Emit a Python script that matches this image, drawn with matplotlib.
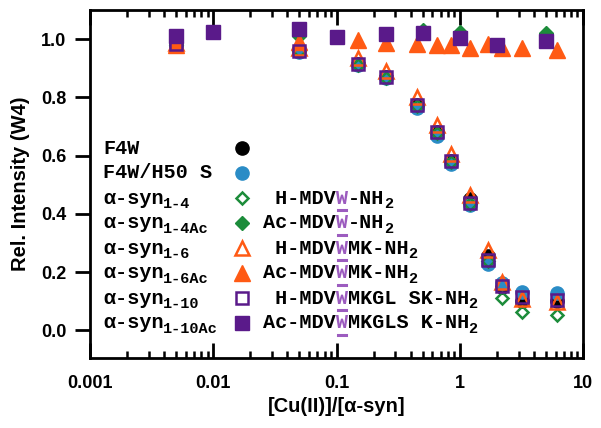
import numpy as np
import matplotlib
matplotlib.use("Agg")
import matplotlib.pyplot as plt
from matplotlib import ticker, transforms

# ---- data ----
x_curve = [0.005, 0.05, 0.15, 0.25, 0.45, 0.65, 0.85, 1.2, 1.7, 2.2, 3.2, 6.2]
y_f4w = [0.98, 0.96, 0.915, 0.87, 0.775, 0.68, 0.58, 0.45, 0.255, 0.15, 0.10, 0.10]
y_h50s = [0.98, 0.955, 0.91, 0.865, 0.762, 0.668, 0.57, 0.43, 0.228, 0.163, 0.13, 0.128]
y_syn14 = [0.98, 0.958, 0.912, 0.868, 0.772, 0.678, 0.578, 0.435, 0.238, 0.111, 0.063, 0.053]
y_syn16 = [0.985, 0.97, 0.935, 0.89, 0.80, 0.705, 0.605, 0.465, 0.275, 0.166, 0.108, 0.097]
y_syn110 = [0.983, 0.959, 0.914, 0.870, 0.774, 0.681, 0.581, 0.437, 0.241, 0.153, 0.115, 0.105]

y_syn16ac = [0.98, 0.99, 0.997, 0.986, 0.983, 0.979, 0.979, 0.969, 0.983, 0.969, 0.969, 0.962]

x_syn14ac = [0.005, 0.05, 0.5, 1.0, 5.0]
y_syn14ac = [0.98, 1.01, 1.03, 1.025, 1.02]

x_syn110ac = [0.005, 0.01, 0.05, 0.1, 0.25, 0.5, 1.0, 2.0, 5.0]
y_syn110ac = [1.01, 1.024, 1.034, 1.007, 1.017, 1.02, 1.003, 0.979, 0.993]

x_ticks = [0.001, 0.01, 0.1, 1, 10]
y_ticks = [0.0, 0.2, 0.4, 0.6, 0.8, 1.0]

names = [("F4W", ""), ("F4W/H50 S", ""), ("α-syn", "1-4"), ("α-syn", "1-4Ac"),
         ("α-syn", "1-6"), ("α-syn", "1-6Ac"), ("α-syn", "1-10"), ("α-syn", "1-10Ac")]
peptides = [None, None,
            (" H-MDV", "W", "-NH"), ("Ac-MDV", "W", "-NH"),
            (" H-MDV", "W", "MK-NH"), ("Ac-MDV", "W", "MK-NH"),
            (" H-MDV", "W", "MKGL SK-NH"), ("Ac-MDV", "W", "MKGLS K-NH")]

# colours
black = "black"
blue = "#2a8cc6"
green = "#1c8c3a"
orange = "#ff5a14"
purple = "#5a1a8a"
lilac = "#9c5cbf"

styles = [
    dict(marker="o", ms=9.5, color=black, mec=black, mfc=black),
    dict(marker="o", ms=9.5, color=blue, mec=blue, mfc=blue),
    dict(marker="D", ms=6.0, color=green, mec=green, mfc="none", mew=1.8),
    dict(marker="D", ms=7.0, color=green, mec=green, mfc=green),
    dict(marker="^", ms=9.5, color=orange, mec=orange, mfc="none", mew=1.8),
    dict(marker="^", ms=11.0, color=orange, mec=orange, mfc=orange),
    dict(marker="s", ms=8.5, color=purple, mec=purple, mfc="none", mew=1.8),
    dict(marker="s", ms=10.5, color=purple, mec=purple, mfc=purple),
]
series = [(x_curve, y_f4w), (x_curve, y_h50s), (x_curve, y_syn14), (x_syn14ac, y_syn14ac),
          (x_curve, y_syn16), (x_curve, y_syn16ac), (x_curve, y_syn110), (x_syn110ac, y_syn110ac)]

fig = plt.figure(figsize=(6.01, 4.28), dpi=100)
ax = fig.add_axes([90 / 601, 1 - 358 / 428, 493 / 601, 348 / 428])

for (xs, ys), st in zip(series, styles):
    ax.plot(xs, ys, ls="none", **st)

ax.set_xscale("log")
ax.set_xlim(0.001, 10)
ax.set_ylim(-0.095, 1.10)

ax.set_xticks(x_ticks)
ax.xaxis.set_major_formatter(ticker.FuncFormatter(lambda v, p: "%g" % v))
ax.xaxis.set_minor_locator(ticker.LogLocator(base=10, subs=np.arange(2, 10)))
ax.xaxis.set_minor_formatter(ticker.NullFormatter())
ax.set_yticks(y_ticks)
ax.yaxis.set_major_formatter(ticker.FormatStrFormatter("%.1f"))

ax.tick_params(axis="x", which="major", direction="in", top=True, bottom=True,
               length=11, width=2, pad=12)
ax.tick_params(axis="x", which="minor", direction="in", top=True, bottom=True,
               length=5, width=1.8)
ax.tick_params(axis="y", which="major", direction="out", left=True, right=False,
               length=11, width=2, pad=6)
for lab in ax.get_xticklabels() + ax.get_yticklabels():
    lab.set_fontfamily("Liberation Sans")
    lab.set_fontweight("bold")
    lab.set_fontsize(13)
for sp in ax.spines.values():
    sp.set_linewidth(2)

ax.set_xlabel("[Cu(II)]/[α-syn]", fontsize=14.5, fontweight="bold",
              fontfamily="Liberation Sans", labelpad=4)
ax.set_ylabel("Rel. Intensity (W4)", fontsize=14.5, fontweight="bold",
              fontfamily="Liberation Sans", labelpad=8)

# ---- legend drawn by hand (names | marker | peptide sequence) ----
fs = 14.5
sfs = 11
cw = 0.6 * fs            # char advance of the mono font, in points
mono = dict(fontfamily="Liberation Mono", fontweight="bold", va="baseline")
ax_w_px = 493.0
ax_h_px = 348.0
row_px = [148, 173, 198, 223, 248, 273, 298, 323]
x_name = (103 - 90) / ax_w_px
x_mark = (242 - 90) / ax_w_px
x_pep = (263 - 90) / ax_w_px
pt2ax = fig.dpi / 72.0 / ax_w_px   # points -> axes fraction (horizontal)
pt2ay = fig.dpi / 72.0 / ax_h_px   # points -> axes fraction (vertical)


def tr(dx=0.0, dy=0.0):
    return transforms.offset_copy(ax.transAxes, fig=fig, x=dx, y=dy, units="points")


for i, st in enumerate(styles):
    yc = (358 - row_px[i]) / ax_h_px
    yb = (358 - row_px[i] - 5.5) / ax_h_px
    name, sub = names[i]
    ax.text(x_name, yb, name, fontsize=fs, transform=tr(), **mono)
    if sub:
        ax.text(x_name, yb, sub, fontsize=sfs, transform=tr(len(name) * cw, -3.5), **mono)
    ax.plot([x_mark], [yc], ls="none", transform=ax.transAxes, clip_on=False, **st)

    pep = peptides[i]
    if pep is None:
        continue
    pre, w, post = pep
    ax.text(x_pep, yb, pre, fontsize=fs, color=black, transform=tr(), **mono)
    ax.text(x_pep, yb, w, fontsize=fs, color=lilac, transform=tr(len(pre) * cw), **mono)
    ax.text(x_pep, yb, post, fontsize=fs, color=black,
            transform=tr((len(pre) + 1) * cw), **mono)
    ax.text(x_pep, yb, "2", fontsize=sfs, color=black,
            transform=tr((len(pre) + 1 + len(post)) * cw, -3.5), **mono)
    # underline under the W
    ux0 = x_pep + (len(pre) * cw + 1.5) * pt2ax
    ux1 = x_pep + ((len(pre) + 1) * cw - 1.5) * pt2ax
    uy = yb - 5.0 * pt2ay
    ax.plot([ux0, ux1], [uy, uy], color=lilac, lw=2.2,
            transform=ax.transAxes, clip_on=False)

fig.savefig("out.png", dpi=100)
